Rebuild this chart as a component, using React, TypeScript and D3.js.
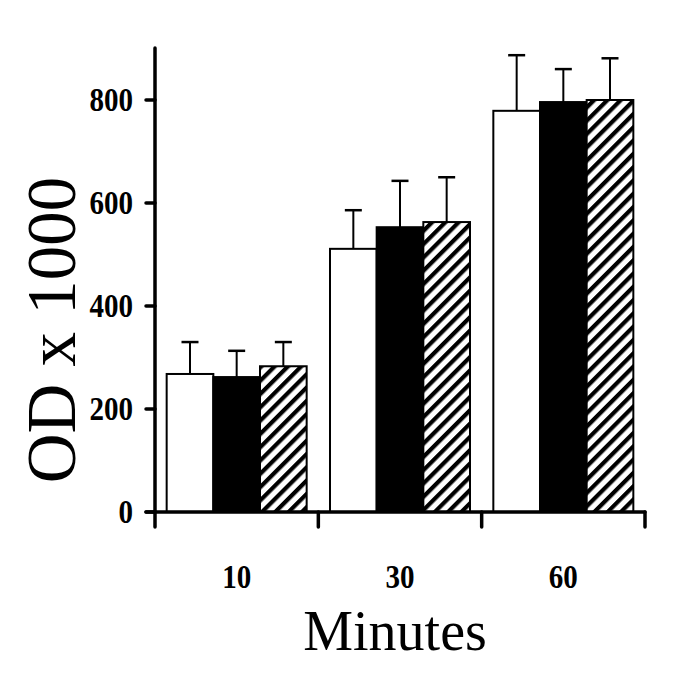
import React from "react";
import * as d3 from "d3";

const categories = ["10", "30", "60"];
const seriesNames = ["open", "solid", "hatched"];
const means = [
  [268, 262, 283],
  [511, 553, 563],
  [779, 796, 800],
];
const upperErr = [
  [330, 313, 330],
  [586, 643, 650],
  [887, 860, 881],
];
const yTicks = [0, 200, 400, 600, 800];

export default function App() {
  const W = 685, H = 685;
  const x0 = 155, x1 = 645, yBase = 512;
  const y = d3.scaleLinear().domain([0, 800]).range([yBase, 100]);
  const xb = d3.scaleBand<string>().domain(categories).range([x0, x1]).paddingInner(0).paddingOuter(0);
  const groupW = 140;
  const xs = d3.scaleBand<string>().domain(seriesNames).range([0, groupW]);
  const fills = ["#fff", "#000", "url(#hatch)"];
  const font = "'Liberation Serif', 'Times New Roman', serif";
  const sx = 0.88;

  return (
    <svg width={W} height={H} style={{ position: "absolute", left: 0, top: 0 }}>
      <defs>
        <pattern id="hatch" patternUnits="userSpaceOnUse" width={9.4} height={9.4} patternTransform="rotate(45)">
          <rect width={9.4} height={9.4} fill="#fff" />
          <rect x={0} y={0} width={4.2} height={9.4} fill="#000" />
        </pattern>
      </defs>
      <rect width={W} height={H} fill="#fff" />
      {categories.map((c, gi) => {
        const gx = (xb(c) as number) + (xb.bandwidth() - groupW) / 2;
        return (
          <g key={c}>
            {seriesNames.map((s, si) => {
              const bx = gx + (xs(s) as number);
              const bw = xs.bandwidth();
              const top = y(means[gi][si]);
              const et = y(upperErr[gi][si]);
              const cx = bx + bw / 2;
              return (
                <g key={s}>
                  <line x1={cx} x2={cx} y1={top} y2={et} stroke="#000" strokeWidth={2} />
                  <line x1={cx - 8.5} x2={cx + 8.5} y1={et} y2={et} stroke="#000" strokeWidth={2.5} />
                  <rect x={bx} y={top} width={bw} height={yBase - top} fill={fills[si]} stroke="#000" strokeWidth={2} />
                </g>
              );
            })}
          </g>
        );
      })}
      <line x1={x0} x2={x0} y1={48} y2={yBase} stroke="#000" strokeWidth={3.5} strokeLinecap="round" />
      <line x1={146} x2={x1} y1={yBase} y2={yBase} stroke="#000" strokeWidth={3.5} strokeLinecap="round" />
      {[0, 1, 2, 3].map((i) => {
        const tx = i < 3 ? (xb(categories[i]) as number) : x1;
        return <line key={i} x1={tx} x2={tx} y1={yBase} y2={527} stroke="#000" strokeWidth={3.5} strokeLinecap="round" />;
      })}
      {yTicks.map((t) => (
        <g key={t}>
          <line x1={146} x2={x0} y1={y(t)} y2={y(t)} stroke="#000" strokeWidth={3.5} strokeLinecap="round" />
          <text transform={`translate(133,${y(t) + 11}) scale(${sx},1)`} textAnchor="end" fontFamily={font} fontWeight="bold" fontSize={33}>
            {t}
          </text>
        </g>
      ))}
      {categories.map((c) => (
        <text key={c} transform={`translate(${(xb(c) as number) + xb.bandwidth() / 2},588) scale(${sx},1)`} textAnchor="middle" fontFamily={font} fontWeight="bold" fontSize={33}>
          {c}
        </text>
      ))}
      <text x={395} y={650} textAnchor="middle" fontFamily={font} fontSize={56}>
        Minutes
      </text>
      <text transform="translate(75,330) rotate(-90)" textAnchor="middle" fontFamily={font} fontSize={69}>
        OD x 1000
      </text>
    </svg>
  );
}
